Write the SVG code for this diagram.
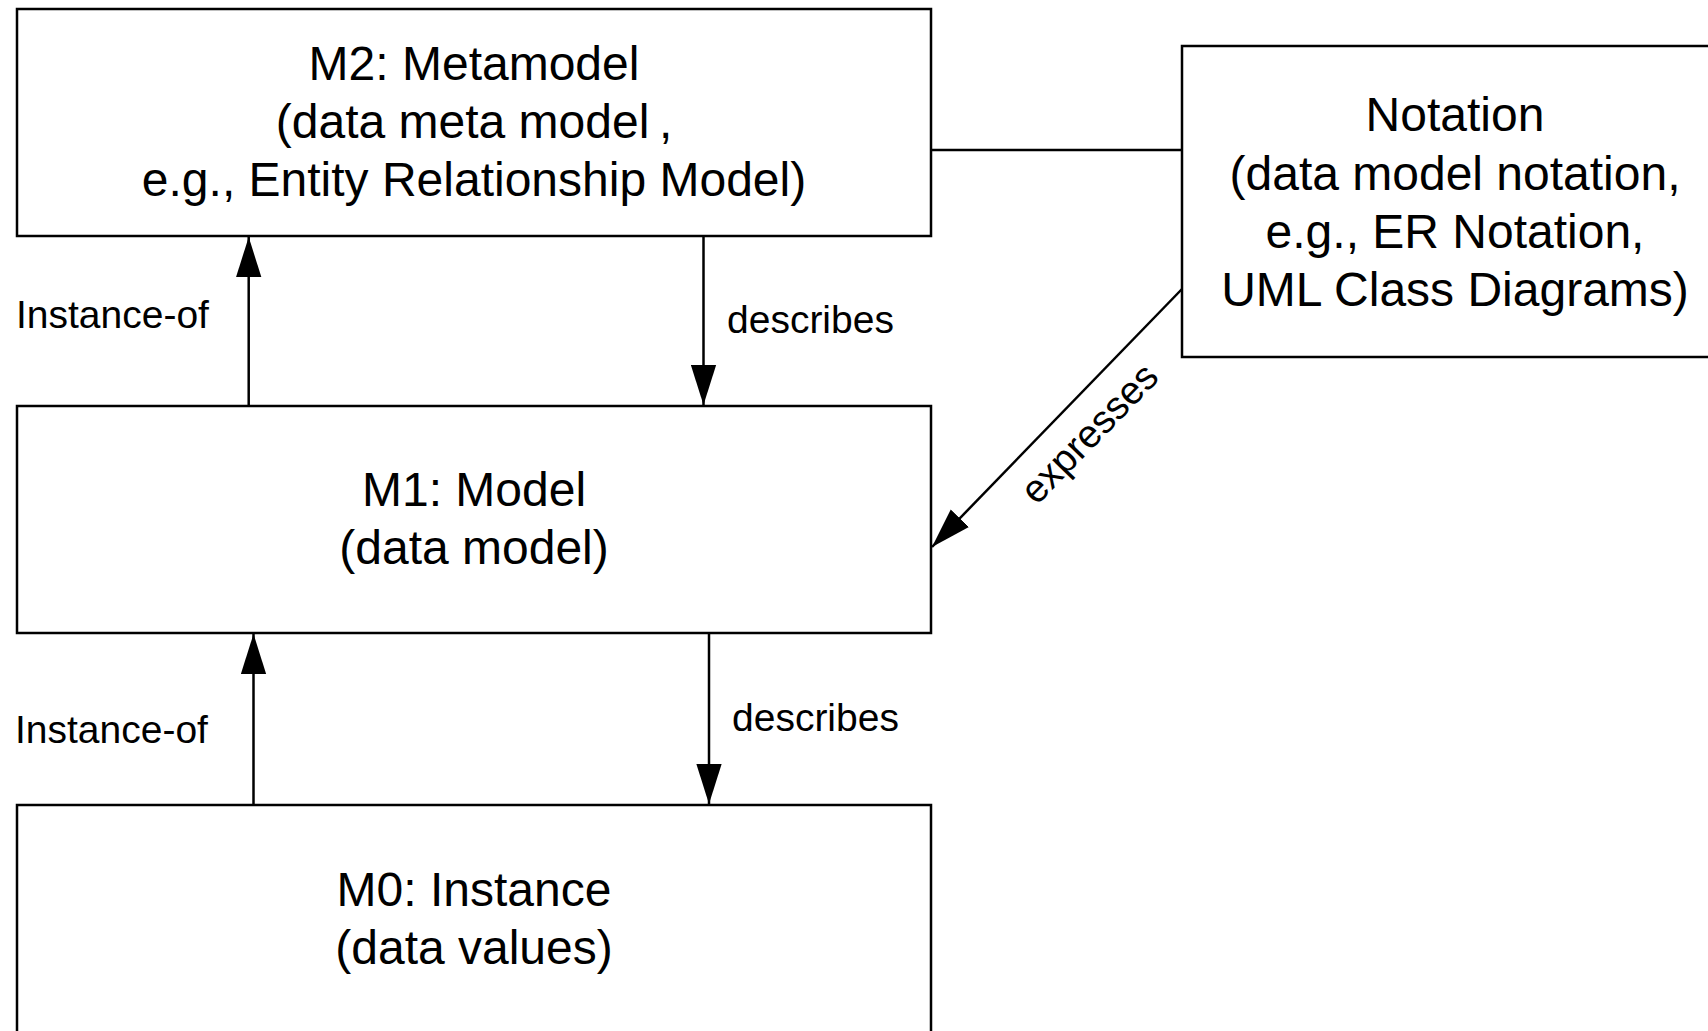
<svg xmlns="http://www.w3.org/2000/svg" width="1708" height="1031" viewBox="0 0 1708 1031">
<style>
.box{fill:#fff;stroke:#000;stroke-width:2.5}
.t{font-family:"Liberation Sans",Arial,sans-serif;font-size:48px;fill:#000;text-anchor:middle}
.l{font-family:"Liberation Sans",Arial,sans-serif;font-size:39px;fill:#000}
.c{fill:none;stroke:#000;stroke-width:2.5}
</style>
<defs>
<marker id="arr" markerUnits="userSpaceOnUse" markerWidth="40" markerHeight="26" viewBox="0 0 38 24" refX="38" refY="12" orient="auto">
<path d="M0,0 L38,12 L0,24 z" fill="#000"/>
</marker>
</defs>
<rect width="1708" height="1031" fill="#fff"/>
<g id="connectors">
<line class="c" x1="931" y1="150" x2="1182" y2="150"/>
<line class="c" x1="248.7" y1="406" x2="248.7" y2="237" marker-end="url(#arr)"/>
<line class="c" x1="703.5" y1="236" x2="703.5" y2="405" marker-end="url(#arr)"/>
<line class="c" x1="253.5" y1="805" x2="253.5" y2="634" marker-end="url(#arr)"/>
<line class="c" x1="709" y1="633" x2="709" y2="804" marker-end="url(#arr)"/>
<line class="c" x1="1182" y1="289" x2="932" y2="547" marker-end="url(#arr)"/>
<text class="l" x="16" y="328">Instance-of</text>
<text class="l" x="727" y="333">describes</text>
<text class="l" x="15" y="743">Instance-of</text>
<text class="l" x="732" y="731">describes</text>
<text class="l" text-anchor="middle" transform="translate(1090,434) rotate(-45.8)" y="12">expresses</text>
</g>
<g id="m2">
<rect class="box" x="17" y="9" width="914" height="227"/>
<text class="t" x="474" y="80">M2: Metamodel</text>
<text class="t" x="474" y="138">(data meta model&#8201;,</text>
<text class="t" x="474" y="196">e.g., Entity Relationship Model)</text>
</g>
<g id="notation">
<rect class="box" x="1182" y="46" width="560" height="311"/>
<text class="t" x="1455" y="131">Notation</text>
<text class="t" x="1455" y="189.5">(data model notation,</text>
<text class="t" x="1455" y="247.5">e.g., ER Notation,</text>
<text class="t" x="1455" y="305.5">UML Class Diagrams)</text>
</g>
<g id="m1">
<rect class="box" x="17" y="406" width="914" height="227"/>
<text class="t" x="474" y="506">M1: Model</text>
<text class="t" x="474" y="564">(data model)</text>
</g>
<g id="m0">
<rect class="box" x="17" y="805" width="914" height="240"/>
<text class="t" x="474" y="906">M0: Instance</text>
<text class="t" x="474" y="964">(data values)</text>
</g>
</svg>
